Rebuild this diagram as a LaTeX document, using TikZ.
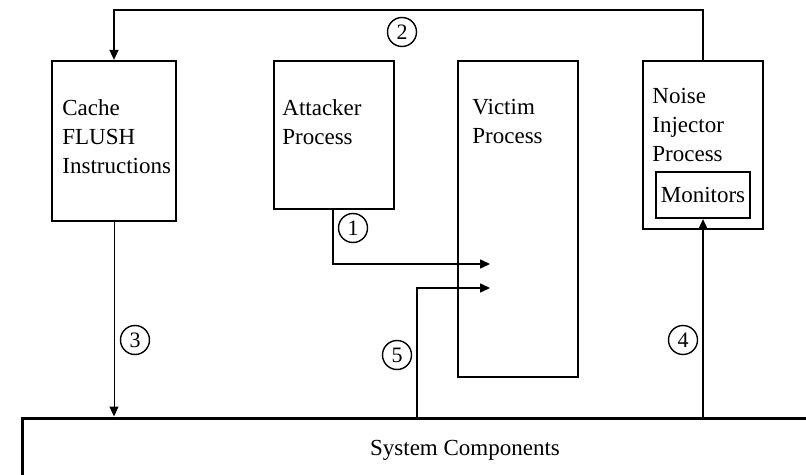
\documentclass[tikz,border=0pt]{standalone}
\usepackage{fontspec}
\setmainfont{Liberation Serif}
\usepackage{tikz}
\usetikzlibrary{positioning,arrows.meta,calc}

\begin{document}
\begin{tikzpicture}[
  x=0.5pt, y=-0.5pt,
  font=\fontsize{11.5}{14.5}\selectfont,
  box/.style={draw, line width=1.1pt, inner sep=0pt},
  txt/.style={align=left, inner sep=0pt, anchor=north west},
  num/.style={draw, circle, line width=0.7pt, inner sep=0pt, minimum size=14.5pt, font=\fontsize{11}{12}\selectfont},
  arr/.style={-{Triangle[length=5pt,width=4.5pt]}, line width=0.8pt}]
\useasboundingbox (0,0) rectangle (806,475);
% process boxes
\node[box, minimum width=62pt, minimum height=80pt] (cache) at (114,141) {};
\node[box, minimum width=60pt, minimum height=74pt] (attacker) at (334,135) {};
\node[box, minimum width=60pt, minimum height=158pt] (victim) at (518,219) {};
\node[box, minimum width=60pt, minimum height=84pt] (noise) at (703,145) {};
\node[box, minimum width=47pt, minimum height=23pt] (monitors) at (703,195) {Monitors};
\node[box, line width=1.5pt, minimum width=443pt, minimum height=32pt] (sys) at (465,450) {System Components};
% box texts
\node[txt] (cachetxt) at (62,99) {Cache\\FLUSH\\Instructions};
\node[txt] (attackertxt) at (282,99) {Attacker\\Process};
\node[txt] (victimtxt) at (472,99) {Victim\\Process};
\node[txt] (noisetxt) at (652,88) {Noise\\Injector\\Process};
% step numbers
\node[num] (n1) at (353,228) {1};
\node[num] (n2) at (402,32) {2};
\node[num] (n3) at (135,340) {3};
\node[num] (n4) at (683,340) {4};
\node[num] (n5) at (397,355) {5};
% bends
\coordinate (top) at (0,10);
\coordinate (a1) at (333,264);
\coordinate (v1) at (490,264);
\coordinate (s5) at (417,288);
\coordinate (v5) at (490,288);
\draw[arr] (noise.north) -- (noise.north |- top) -- (cache.north |- top) -- (cache.north);
\draw[arr, line width=0.5pt] (cache.south) -- (cache.south |- sys.north);
\draw[arr] (attacker.south -| a1) -- (a1) -- (v1);
\draw[arr] (sys.north -| s5) -- (s5) -- (v5);
\draw[arr] (sys.north -| monitors.south) -- (monitors.south);
\end{tikzpicture}
\end{document}
